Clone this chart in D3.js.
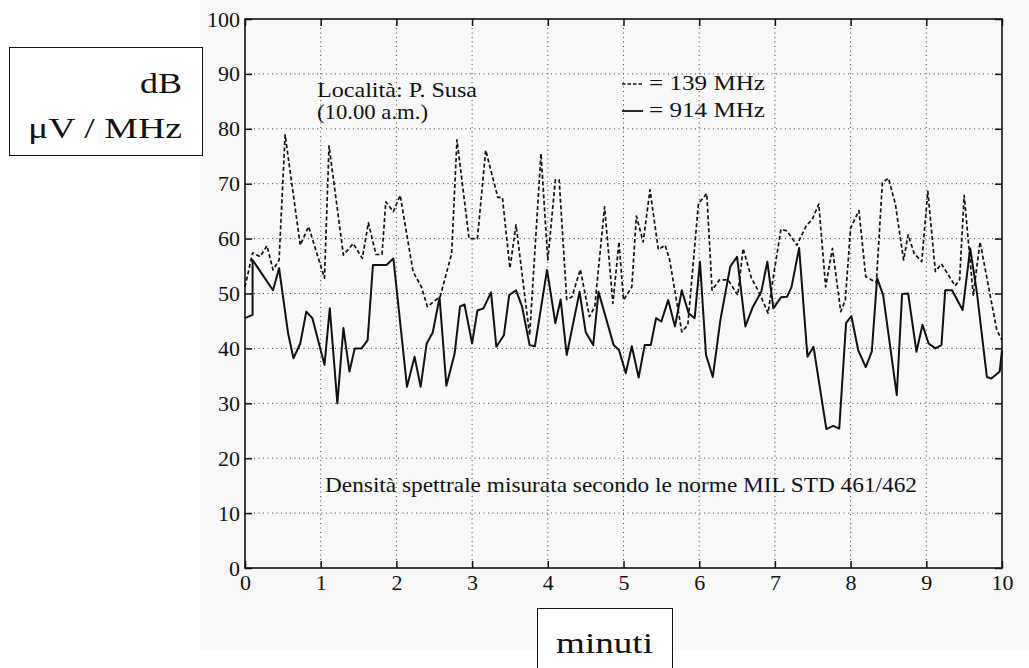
<!DOCTYPE html>
<html>
<head>
<meta charset="utf-8">
<script src="https://cdn.jsdelivr.net/npm/d3@7"></script>
<style>
  html, body { margin: 0; padding: 0; background: #ffffff; }
  svg { display: block; }
  text { font-family: "Liberation Serif", "Times New Roman", serif; fill: #111; }
</style>
</head>
<body>
<svg id="chart" width="1029" height="668"></svg>
<script>
// ---- data ----
const xTicks = [0, 1, 2, 3, 4, 5, 6, 7, 8, 9, 10];
const yTicks = [0, 10, 20, 30, 40, 50, 60, 70, 80, 90, 100];

// 139 MHz (dashed)
const t139 = [0,0.10,0.20,0.29,0.37,0.45,0.53,0.73,0.84,1.05,1.11,1.30,1.43,1.55,1.63,1.73,1.81,1.86,1.96,2.05,
  2.22,2.33,2.41,2.58,2.73,2.80,2.96,3.07,3.18,3.34,3.40,3.50,3.58,3.76,3.91,4.00,4.10,4.15,4.25,4.32,
  4.43,4.55,4.62,4.75,4.86,4.94,5.00,5.11,5.17,5.26,5.35,5.46,5.55,5.61,5.77,5.85,5.99,6.10,6.17,6.27,
  6.38,6.51,6.58,6.69,6.80,6.91,6.98,7.08,7.16,7.29,7.42,7.49,7.58,7.67,7.76,7.87,7.93,8.00,8.11,8.20,
  8.34,8.42,8.50,8.59,8.70,8.76,8.84,8.94,9.02,9.12,9.20,9.38,9.44,9.50,9.62,9.71,9.93,10.0];
const v139 = [51.2,57.4,56.7,58.7,54.3,56.1,78.9,58.8,62.2,52.8,76.9,57.0,59.1,56.4,62.9,57.1,57.1,66.7,64.9,67.9,
  54.0,51.2,47.6,49.5,57.3,78.0,60.0,60.0,76.1,67.5,67.5,54.6,62.5,42.4,75.5,56.1,70.7,70.7,48.9,49.4,
  54.4,45.8,47.6,65.8,48.2,59.4,48.8,51.2,64.1,59.4,68.9,58.0,58.8,56.1,43.0,44.3,66.4,68.2,50.6,52.5,
  52.5,49.7,58.2,52.8,50.0,46.4,53.1,61.7,61.4,58.8,62.5,63.4,66.3,51.2,58.2,46.7,48.8,61.9,65.1,53.1,
  52.0,70.2,71.0,66.4,56.1,60.7,57.3,55.8,68.6,54.0,55.4,51.4,52.5,67.9,49.7,59.4,43.4,41.5];

// 914 MHz (solid)
const t914 = [0,0.10,0.10,0.37,0.45,0.57,0.64,0.73,0.81,0.89,1.05,1.12,1.22,1.30,1.38,1.45,1.54,1.62,1.69,1.87,
  1.96,2.14,2.24,2.32,2.40,2.48,2.57,2.66,2.77,2.84,2.90,3.00,3.07,3.15,3.25,3.32,3.42,3.49,3.58,3.66,
  3.76,3.83,3.99,4.10,4.17,4.25,4.42,4.50,4.60,4.67,4.87,4.94,5.03,5.11,5.20,5.28,5.36,5.43,5.50,5.59,
  5.68,5.77,5.86,5.94,6.01,6.09,6.18,6.28,6.41,6.50,6.61,6.71,6.82,6.90,6.98,7.08,7.16,7.22,7.32,7.43,
  7.51,7.68,7.77,7.85,7.94,8.01,8.10,8.20,8.28,8.35,8.43,8.61,8.68,8.76,8.87,8.95,9.03,9.12,9.20,9.25,
  9.34,9.48,9.58,9.67,9.80,9.86,9.97,10.0];
const v914 = [45.5,46.1,56.1,50.6,54.6,42.7,38.2,40.9,46.7,45.5,37.0,47.3,30.0,43.7,35.8,40.0,40.0,41.5,55.2,55.2,
  56.4,33.0,38.5,33.0,40.9,42.9,49.3,33.2,39.1,47.6,48.0,40.9,46.9,47.3,50.2,40.3,42.4,49.7,50.6,47.6,
  40.6,40.4,54.3,44.6,48.9,38.8,50.3,43.0,40.6,50.3,40.6,39.7,35.5,40.4,34.7,40.6,40.6,45.5,44.9,48.8,
  44.0,50.6,46.4,45.5,55.8,38.8,34.8,45.2,54.9,56.7,44.0,47.6,50.3,55.8,47.3,49.3,49.4,51.2,58.3,38.5,
  40.3,25.3,25.9,25.4,44.6,45.9,39.7,36.6,39.4,52.8,49.7,31.5,49.9,50.0,39.4,44.3,40.9,40.0,40.6,50.6,
  50.6,47.0,58.2,50.0,34.8,34.5,35.8,39.7];

const legendLabels = ["= 139 MHz", "= 914 MHz"];
const noteLines = ["Località: P. Susa", "(10.00 a.m.)"];
const footNote = "Densità spettrale misurata secondo le norme MIL STD 461/462";
const yUnitLines = ["dB", "μV / MHz"];
const xTitle = "minuti";

// ---- layout ----
const svg = d3.select("#chart");
const L = 245, R = 1002, T = 19, B = 568;
const x = d3.scaleLinear().domain([0, 10]).range([L, R]);
const y = d3.scaleLinear().domain([0, 100]).range([B, T]);

// scanned-page background
svg.append("rect").attr("x", 200).attr("y", 0).attr("width", 829).attr("height", 650).attr("fill", "#f8f8f8");

// grid
const grid = svg.append("g").attr("stroke", "#444").attr("stroke-width", 1).attr("stroke-dasharray", "1,3.5");
grid.selectAll("line.v").data(xTicks.slice(1, -1)).join("line")
  .attr("x1", d => x(d)).attr("x2", d => x(d)).attr("y1", T).attr("y2", B);
grid.selectAll("line.h").data(yTicks.slice(1, -1)).join("line")
  .attr("x1", L).attr("x2", R).attr("y1", d => y(d)).attr("y2", d => y(d));

// axes
const fs = 21;
const axL = svg.append("g").attr("transform", `translate(${L},0)`)
  .call(d3.axisLeft(y).tickValues(yTicks).tickSizeInner(-7).tickSizeOuter(0).tickPadding(5).tickFormat(d3.format("d")));
const axB = svg.append("g").attr("transform", `translate(0,${B})`)
  .call(d3.axisBottom(x).tickValues(xTicks).tickSizeInner(-7).tickSizeOuter(0).tickPadding(6).tickFormat(d3.format("d")));
const axR = svg.append("g").attr("transform", `translate(${R},0)`)
  .call(d3.axisRight(y).tickValues(yTicks).tickSizeInner(-7).tickSizeOuter(0).tickFormat(""));
const axT = svg.append("g").attr("transform", `translate(0,${T})`)
  .call(d3.axisTop(x).tickValues(xTicks).tickSizeInner(-7).tickSizeOuter(0).tickFormat(""));
[axL, axB, axR, axT].forEach(g => {
  g.attr("font-family", null).attr("font-size", null);
  g.select(".domain").remove();
  g.selectAll(".tick line").attr("stroke", "#111").attr("stroke-width", 1.5);
  g.selectAll(".tick text").attr("font-family", '"Liberation Serif", serif').attr("font-size", 22).attr("fill", "#111");
});

// frame
svg.append("rect").attr("x", L).attr("y", T).attr("width", R - L).attr("height", B - T)
  .attr("fill", "none").attr("stroke", "#111").attr("stroke-width", 1.6);

// series
const line = d3.line().x(d => x(d[0])).y(d => y(d[1]));
const s139 = t139.map((t, i) => [t, v139[i]]);
const s914 = t914.map((t, i) => [t, v914[i]]);
svg.append("path").datum(s139).attr("d", line).attr("fill", "none")
  .attr("stroke", "#111").attr("stroke-width", 1.7).attr("stroke-dasharray", "4,2.5").attr("stroke-linejoin", "round");
svg.append("path").datum(s914).attr("d", line).attr("fill", "none")
  .attr("stroke", "#111").attr("stroke-width", 2).attr("stroke-linejoin", "round");

// helper for stretched scan text
function label(xp, yp, str, size, len, anchor) {
  const t = svg.append("text").attr("x", xp).attr("y", yp).attr("font-size", size).text(str);
  if (len) t.attr("textLength", len).attr("lengthAdjust", "spacingAndGlyphs");
  if (anchor) t.attr("text-anchor", anchor);
  return t;
}

// note text
label(317, 97, noteLines[0], fs, 160);
label(317, 119, noteLines[1], fs, 111);

// legend
svg.append("line").attr("x1", 622).attr("x2", 643).attr("y1", 84).attr("y2", 84)
  .attr("stroke", "#111").attr("stroke-width", 1.4).attr("stroke-dasharray", "3.5,2");
svg.append("line").attr("x1", 622).attr("x2", 643).attr("y1", 111).attr("y2", 111)
  .attr("stroke", "#111").attr("stroke-width", 1.8);
label(649, 90, legendLabels[0], fs, 116);
label(649, 117, legendLabels[1], fs, 116);

// footnote
label(325, 492, footNote, fs, 592);

// y unit box
svg.append("rect").attr("x", 9.5).attr("y", 47.5).attr("width", 193).attr("height", 108)
  .attr("fill", "#fff").attr("stroke", "#111").attr("stroke-width", 1);
label(140, 93, yUnitLines[0], 30, 42);
label(28, 138, yUnitLines[1], 30, 154);

// x title box
svg.append("rect").attr("x", 537.5).attr("y", 608.5).attr("width", 135).attr("height", 80)
  .attr("fill", "#fff").attr("stroke", "#111").attr("stroke-width", 1);
label(556, 653, xTitle, 30, 97);
</script>
</body>
</html>
